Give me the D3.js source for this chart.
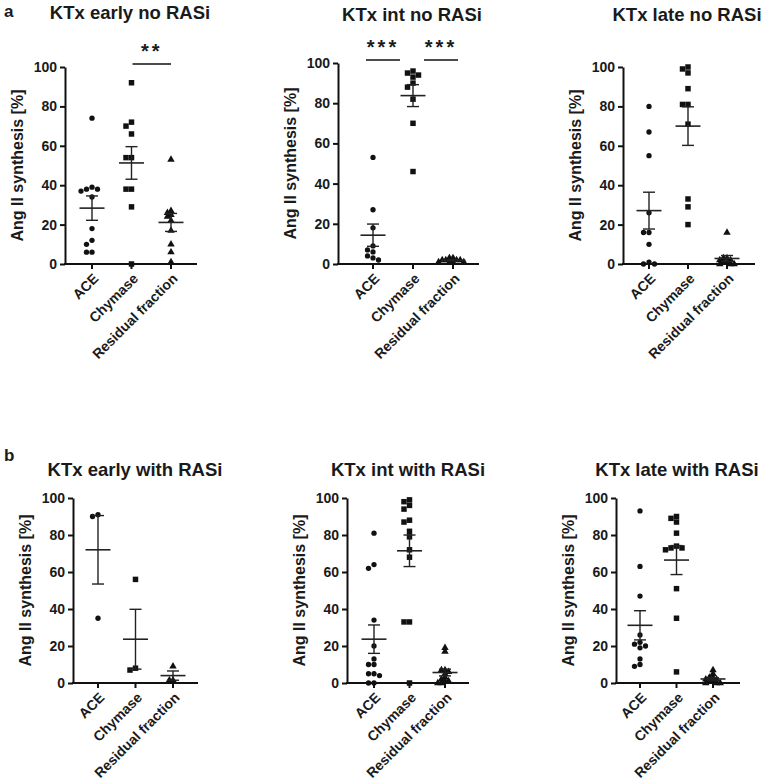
<!DOCTYPE html>
<html>
<head>
<meta charset="utf-8">
<script src="https://cdn.jsdelivr.net/npm/d3@7"></script>
<style>
  body { margin: 0; background: #fff; }
  text { font-family: "Liberation Sans", Arial, sans-serif; fill: #1a1a1a; }
</style>
</head>
<body>
<div id="chart"></div>
<script>
//categories & tick labels
const categories = ["ACE", "Chymase", "Residual fraction"];
const yTicks = [0, 20, 40, 60, 80, 100];
const titles = ["KTx early no RASi", "KTx int no RASi", "KTx late no RASi",
                "KTx early with RASi", "KTx int with RASi", "KTx late with RASi"];

//values, Ang II synthesis [%]
const ace_a1 = [74, 39, 38, 38, 37, 34, 18, 12, 10, 6, 6];
const chy_a1 = [92, 72, 70, 66, 54, 54, 38, 38, 29, 0];
const res_a1 = [53, 27, 26, 25, 24, 22, 17, 10, 6, 1];

const ace_a2 = [53, 27, 18, 9, 7, 6, 4, 3, 2];
const chy_a2 = [96, 95, 94, 93, 90, 88, 82, 70, 46];
const res_a2 = [3, 3, 2, 2, 2, 2, 1, 1, 1, 1];

const ace_a3 = [80, 67, 55, 26, 16, 16, 10, 1, 0, 0];
const chy_a3 = [100, 99, 97, 89, 81, 81, 71, 33, 29, 20];
const res_a3 = [16, 3, 3, 2, 2, 1, 1, 0, 0, 0];

const ace_b1 = [91, 90, 35];
const chy_b1 = [56, 8, 7];
const res_b1 = [9, 1.5, 1.5];

const ace_b2 = [81, 64, 62, 34, 20, 13, 10, 10, 5, 5, 4, 0, 0];
const chy_b2 = [99, 98, 96, 94, 88, 87, 82, 79, 72, 68, 33, 33, 0];
const res_b2 = [19, 17, 7, 7, 6, 5, 3, 2, 1, 1, 0, 0];

const ace_b3 = [93, 63, 47, 26, 22, 21, 20, 19, 13, 10, 9];
const chy_b3 = [90, 89, 87, 81, 74, 73, 73, 72, 51, 35, 6];
const res_b3 = [7, 5, 3, 3, 2, 2, 1, 1, 0, 0, 0];

//significance brackets: [from category, to category, stars, x inset start, x inset end]
const sig_a1 = [["Chymase", "Residual fraction", "**", 1, 0]];
const sig_a2 = [["ACE", "Chymase", "***", -7, -13], ["Chymase", "Residual fraction", "***", 11, 5]];

//layout frames of the six panels (pixels)
const frames = [
  {ax: 65,  y0: 264, y100: 67,  c0: 92,  c2: 171, end: 197, tx: 130, ty: 19},
  {ax: 338, y0: 264, y100: 63,  c0: 373, c2: 453, end: 479, tx: 412, ty: 21},
  {ax: 623, y0: 264, y100: 67,  c0: 649, c2: 727, end: 755, tx: 687, ty: 21},
  {ax: 73,  y0: 683, y100: 498, c0: 98,  c2: 173, end: 198, tx: 135, ty: 476},
  {ax: 347, y0: 683, y100: 498, c0: 374, c2: 445, end: 469, tx: 408, ty: 476},
  {ax: 616, y0: 683, y100: 498, c0: 640, c2: 713, end: 740, tx: 677, ty: 476}
];

const panels = [
  {groups: [ace_a1, chy_a1, res_a1], sig: sig_a1},
  {groups: [ace_a2, chy_a2, res_a2], sig: sig_a2},
  {groups: [ace_a3, chy_a3, res_a3], sig: []},
  {groups: [ace_b1, chy_b1, res_b1], sig: []},
  {groups: [ace_b2, chy_b2, res_b2], sig: []},
  {groups: [ace_b3, chy_b3, res_b3], sig: []}
].map(function(p, i) { return Object.assign(p, frames[i], {title: titles[i]}); });

let svg = d3.select("#chart").append("svg")
            .attr("width", 768)
            .attr("height", 784);

//panel letters
svg.append("text").attr("x", 4).attr("y", 17).style("font-size", "17px").style("font-weight", "bold").text("a");
svg.append("text").attr("x", 4).attr("y", 461).style("font-size", "17px").style("font-weight", "bold").text("b");

//marker per category: circle, square, triangle
const symbols = [d3.symbolCircle, d3.symbolSquare, d3.symbolTriangle];
const symSizes = [22, 30, 24];
const spread = [5.5, 5.5, 3.6];

panels.forEach(drawPanel);

function drawPanel(p) {
  let g = svg.append("g");

  let y = d3.scaleLinear().domain([0, 100]).range([p.y0, p.y100]);
  let x = d3.scalePoint().domain(categories).range([p.c0, p.c2]);

  //title
  g.append("text")
   .attr("x", p.tx).attr("y", p.ty)
   .style("text-anchor", "middle")
   .style("font-size", "18.5px")
   .style("font-weight", "bold")
   .text(p.title);

  //y axis
  let yAxis = g.append("g")
               .attr("transform", `translate(${p.ax},0)`)
               .call(d3.axisLeft(y).tickValues(yTicks).tickSize(5).tickPadding(3).tickSizeOuter(0));
  yAxis.select(".domain").attr("stroke", "#111").attr("stroke-width", 2);
  yAxis.selectAll(".tick line").attr("stroke", "#111").attr("stroke-width", 2);
  yAxis.selectAll(".tick text")
       .style("font-size", "14px").style("font-weight", "bold").attr("fill", "#1a1a1a")
       .style("font-family", "'Liberation Sans', Arial, sans-serif");

  //x axis line
  g.append("line")
   .attr("x1", p.ax - 1).attr("x2", p.end)
   .attr("y1", p.y0).attr("y2", p.y0)
   .attr("stroke", "#111").attr("stroke-width", 2);

  //category ticks & rotated labels
  categories.forEach(function(c) {
    g.append("line")
     .attr("x1", x(c)).attr("x2", x(c))
     .attr("y1", p.y0).attr("y2", p.y0 + 5)
     .attr("stroke", "#111").attr("stroke-width", 2);
    g.append("text")
     .attr("transform", `translate(${x(c) + 4},${p.y0 + 12}) rotate(-45)`)
     .style("text-anchor", "end")
     .attr("dy", "0.35em")
     .style("font-size", "14px")
     .style("font-weight", "bold")
     .text(c);
  });

  //y axis label
  g.append("text")
   .attr("transform", `translate(${p.ax - 48},${(p.y0 + p.y100) / 2}) rotate(-90)`)
   .attr("dy", "0.35em")
   .style("text-anchor", "middle")
   .style("font-size", "16px")
   .style("font-weight", "bold")
   .text("Ang II synthesis [%]");

  //scatter points
  p.groups.forEach(function(vals, i) {
    let cx = x(categories[i]);
    let pts = swarm(vals, y, spread[i], spread[i] - 0.3);
    g.selectAll(null)
     .data(pts)
     .enter()
     .append("path")
     .attr("d", d3.symbol().type(symbols[i]).size(symSizes[i]))
     .attr("transform", function(d) { return `translate(${cx + d.dx},${d.py})`; })
     .attr("fill", "#111");

    //mean & SEM
    let m = d3.mean(vals);
    let sem = d3.deviation(vals) / Math.sqrt(vals.length);
    g.append("line")
     .attr("x1", cx - 12.5).attr("x2", cx + 12.5)
     .attr("y1", y(m)).attr("y2", y(m))
     .attr("stroke", "#222").attr("stroke-width", 1.6);
    g.append("line")
     .attr("x1", cx).attr("x2", cx)
     .attr("y1", y(m - sem)).attr("y2", y(m + sem))
     .attr("stroke", "#222").attr("stroke-width", 1.4);
    [m - sem, m + sem].forEach(function(v) {
      g.append("line")
       .attr("x1", cx - 6).attr("x2", cx + 6)
       .attr("y1", y(v)).attr("y2", y(v))
       .attr("stroke", "#222").attr("stroke-width", 1.4);
    });
  });

  //significance bars
  p.sig.forEach(function(s) {
    let x1 = x(s[0]) + s[3], x2 = x(s[1]) + s[4];
    g.append("line")
     .attr("x1", x1).attr("x2", x2)
     .attr("y1", p.y100 - 3).attr("y2", p.y100 - 3)
     .attr("stroke", "#111").attr("stroke-width", 1.6);
    g.append("text")
     .attr("x", (x1 + x2) / 2).attr("y", p.y100 - 9)
     .style("text-anchor", "middle")
     .style("font-size", "20px")
     .style("font-weight", "bold")
     .style("letter-spacing", "3px")
     .text(s[2]);
  });
}

//horizontal spread of points that would overlap (like a column scatter)
function swarm(vals, y, step, minDist) {
  let placed = [];
  vals.slice().sort(function(a, b) { return b - a; }).forEach(function(v) {
    let py = y(v);
    for (let k = 0; k < 20; k++) {
      let dx = (k % 2 === 0 ? 1 : -1) * Math.ceil(k / 2) * step;
      let hit = placed.some(function(q) { return Math.hypot(dx - q.dx, py - q.py) < minDist; });
      if (!hit) { placed.push({v: v, py: py, dx: dx}); break; }
    }
  });
  return placed;
}
</script>
</body>
</html>
